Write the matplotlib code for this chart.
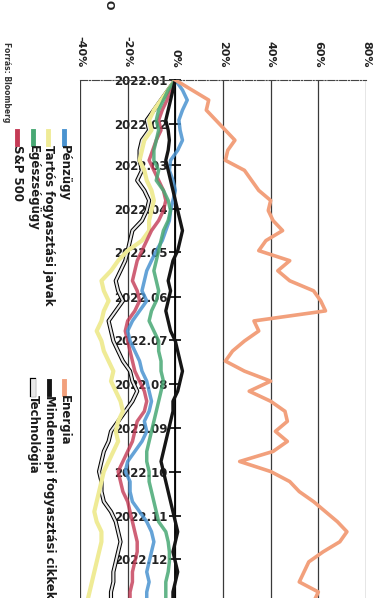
import numpy as np
import matplotlib
matplotlib.use("Agg")
import matplotlib.pyplot as plt
from matplotlib.lines import Line2D

# Weekly sampled days of 2022 (day 0 = Jan 1)
days = np.arange(0, 365, 7)

# Cumulative sector returns (%)
energia = [0, 7, 14, 13, 17, 21, 25, 22, 21, 29, 32, 35, 40, 39, 41, 45, 38, 35, 48, 43,
           48, 58, 61, 63, 33, 35, 29, 24, 21, 29, 40, 31, 40, 46, 47, 42, 47, 41, 27, 40,
           48, 52, 58, 63, 68, 72, 69, 62, 56, 54, 52, 60, 58]
mindennapi = [0, -1, -2, -3, -4, -3, -2.5, -3, -4, -3, -2, -1, 0, 1, 2, 3, 2, 1, -1, -2,
              -3, -2, -3, -4, -3, -2, 0, 1, 2, 3, 2, 1, -1, -1, -2, -3, -4, -5, -6, -5,
              -4, -3, -2, -1, 0, 1, 0, -1, 0, 1, 0, -1, -1]
technologia = [0, -3, -6, -9, -12, -11, -14, -15, -15, -14, -16, -13, -11, -12, -14, -18, -19, -20, -21, -23,
               -25, -24, -22, -25, -28, -27, -26, -24, -22, -19, -18, -16, -18, -21, -24, -27, -28, -30, -31, -32,
               -31, -31, -30, -27, -25, -24, -23, -24, -25, -26, -26, -27, -27]
penzugy = [0, 3, 5, 3, 1.5, 2, 3, 1, -2, -2.5, -1, 0, -1, -2, -2.5, -4, -5.5, -8, -10, -12,
           -13, -14, -12, -15, -18, -20, -19, -17, -15, -14, -12, -11, -10, -11, -13, -12, -14, -17, -20, -21,
           -19, -19, -18, -15, -12, -10, -9, -10, -11, -12, -11, -12, -12]
tartos = [0, -3, -6, -9, -11, -10, -13, -14, -15, -13, -12, -10, -9, -10, -11, -11, -14, -20, -24, -27,
          -31, -30, -28, -30, -31, -33, -31, -30, -28, -26, -27, -25, -23, -22, -24, -25, -24, -26, -28, -30,
          -31, -32, -33, -34, -33, -31, -31, -32, -33, -34, -35, -36, -37]
egeszseg = [0, -3, -5, -7, -8, -7, -8, -9, -9, -7, -8, -5, -3, -2, -3, -5, -6, -7, -8, -9,
            -8, -7, -8, -10, -11, -9, -7, -7, -6, -6, -5, -6, -7, -8, -9, -10, -11, -12, -12, -11,
            -11, -10, -9, -8, -7, -4, -3, -2.5, -2.5, -3, -4, -4, -4]
sp500 = [0, -2, -3.5, -5.5, -7, -6, -8, -9.5, -11, -9, -7, -5, -4, -5, -7, -10, -12, -14, -16, -17,
         -18, -16, -15, -17, -20, -21, -20, -19, -18, -17, -15, -13, -12, -13, -16, -17, -18, -20, -22, -24,
         -23, -22, -20, -19, -18, -17, -16, -16, -17, -18, -18, -19, -19]

month_days = [0, 31, 59, 90, 120, 151, 181, 212, 243, 273, 304, 334]
month_labels = ["2022.%02d" % m for m in range(1, 13)]
pct_ticks = [-40, -20, 0, 20, 40, 60, 80]
pct_labels = ["%d%%" % v for v in pct_ticks]

c_energia = "#f2a07c"
c_penzugy = "#4a93d0"
c_tartos = "#efeb96"
c_egeszseg = "#48a874"
c_sp = "#c43a55"

W, H = 382, 598
fig = plt.figure(figsize=(W / 100, H / 100), dpi=100)
ax = fig.add_axes([80 / W, 0, 286 / W, 518 / H])

# Rotated chart: returns run left-right, time runs top-down
ax.plot(technologia, days, color="black", lw=3.0, zorder=2)
ax.plot(technologia, days, color="#e8e8e8", lw=1.5, zorder=2)
ax.plot(tartos, days, color=c_tartos, lw=3, zorder=3)
ax.plot(sp500, days, color=c_sp, lw=2.5, alpha=0.8, zorder=3)
ax.plot(penzugy, days, color=c_penzugy, lw=2.5, alpha=0.85, zorder=3)
ax.plot(egeszseg, days, color=c_egeszseg, lw=2.5, alpha=0.85, zorder=3)
ax.plot(mindennapi, days, color="#151515", lw=2.4, zorder=4)
ax.plot(energia, days, color=c_energia, lw=2.6, zorder=4)

ax.set_xlim(-40, 80)
ax.set_ylim(361.2, 0)

# percent axis on top, rotated labels
ax.set_xticks(pct_ticks)
ax.set_xticklabels(pct_labels, rotation=-90, fontsize=8, fontweight="bold", color="#222222")
ax.tick_params(axis="x", top=True, labeltop=True, bottom=False, labelbottom=False, length=0, pad=9)
ax.grid(axis="x", color="#3a3a3a", lw=0.9)

# date axis sits on the 0% line
ax.spines["left"].set_position(("data", 0))
ax.spines["left"].set_linewidth(1.3)
ax.spines["right"].set_visible(False)
ax.spines["bottom"].set_visible(False)
ax.spines["top"].set_linestyle("-.")
ax.spines["top"].set_linewidth(0.8)
ax.spines["top"].set_color("#444444")
ax.set_yticks(month_days)
ax.set_yticklabels(month_labels, fontsize=8.5, fontweight="bold", color="#222222")
ax.tick_params(axis="y", direction="inout", length=9, width=1.2, pad=1)
for lbl in ax.get_yticklabels():
    lbl.set_zorder(6)

# legend drawn by hand, rotated like the rest of the page
def fx(x):
    return x / W

def fy(y):
    return 1 - y / H

legend_left = [("Pénzügy", c_penzugy, 64), ("Tartós fogyasztási javak", c_tartos, 48),
               ("Egészségügy", c_egeszseg, 33), ("S&P 500", c_sp, 17)]
legend_right = [("Energia", c_energia, 64), ("Mindennapi fogyasztási cikkek", "#151515", 49),
                ("Technológia", "#e8e8e8", 33)]

for entries, y0 in [(legend_left, 131), (legend_right, 381)]:
    for name, col, x in entries:
        if name == "Technológia":
            fig.add_artist(Line2D([fx(x), fx(x)], [fy(y0), fy(y0 + 13)], color="black", lw=4.5))
        fig.add_artist(Line2D([fx(x), fx(x)], [fy(y0), fy(y0 + 13)], color=col, lw=3.5))
        fig.text(fx(x), fy(y0 + 14), name, rotation=-90, ha="center", va="top",
                 fontsize=8.5, fontweight="bold", color="#1a1a1a")

fig.text(fx(6), fy(42), "Forrás: Bloomberg", rotation=-90, ha="center", va="top",
         fontsize=5.5, fontweight="bold", color="#333333")
fig.text(fx(109), fy(0.5), "O", rotation=-90, ha="center", va="top",
         fontsize=8, fontweight="bold", color="#222222")

plt.savefig("out.png", dpi=100)
